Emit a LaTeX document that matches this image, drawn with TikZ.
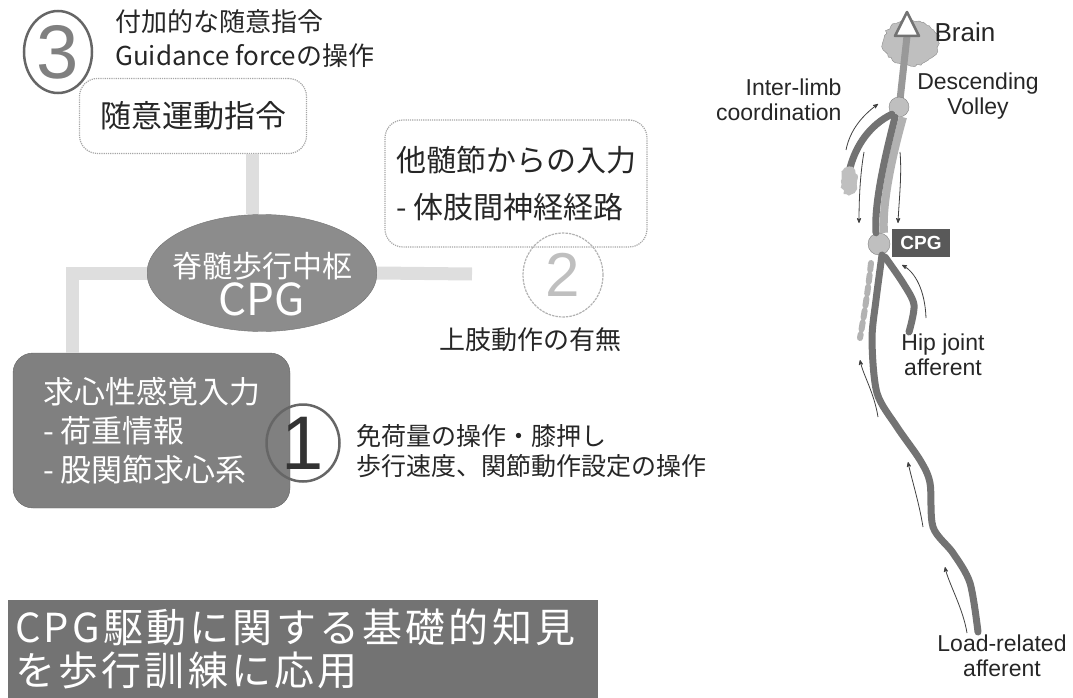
\documentclass[tikz,border=0pt]{standalone}
\usepackage{fontspec}
\setmainfont{Noto Sans CJK JP}
\newfontfamily\labelsans{Liberation Sans}
\usetikzlibrary{arrows,shapes.geometric,decorations.pathmorphing}

\tikzset{
	dotbox/.style={draw=black!35, densely dotted, line width=1.2pt, rounded corners=18pt, align=left, text=black!85},
	darkbox/.style={fill=black!50, draw=black!60, rounded corners=20pt, text=white, align=left},
	band/.style={line width=13pt, draw=black!13},
	nerve/.style={line width=7pt, draw=black!55, line cap=round},
	flow/.style={->, >=stealth', line width=0.8pt, draw=black!75},
	numcirc/.style={ellipse, draw=black!60, line width=2.5pt, inner sep=0pt, font=\labelsans\fontsize{76}{76}\selectfont},
	blob/.style={decorate, decoration={random steps, segment length=3pt, amplitude=1.5pt}},
	spinelabel/.style={text=black!85, font=\labelsans\fontsize{23}{25}\selectfont},
}

\begin{document}
\begin{tikzpicture}[x=1pt, y=-1pt]
	\useasboundingbox (0,0) rectangle (1073,698);

	\newcommand\afferentarrow[4]{ %% arguments: start x, start y, end x, end y
		\draw[flow] (#1,#2) .. controls (#1-4,#2-25) and (#3+3,#4+15) .. (#3,#4);
	}

	%% left: inputs to the CPG
	\node[numcirc, minimum width=68pt, minimum height=82pt, text=black!50] (three) at (58,52) {3};
	\node[anchor=west, align=left, inner sep=1pt, text=black!85, font=\fontsize{26}{34}\selectfont] (guidance) at (114,39) {付加的な随意指令\\Guidance forceの操作};
	\node[dotbox, minimum width=227pt, minimum height=75pt, font=\fontsize{31}{31}\selectfont] (voluntary) at (193,116) {随意運動指令};

	\node[ellipse, fill=black!45, draw=black!55, minimum width=230pt, minimum height=117pt] (cpg) at (262,273) {};
	\node[text=white, align=center, font=\fontsize{30}{38}\selectfont] (cpgtext) at (262,284) {脊髄歩行中枢\\{\fontsize{44}{44}\selectfont CPG}};

	\node[dotbox, minimum width=262pt, minimum height=127pt, font=\fontsize{30}{47}\selectfont] (segments) at (516,183.5) {他髄節からの入力\\- 体肢間神経経路};
	\node[numcirc, minimum width=80pt, minimum height=84pt, draw=black!30, densely dotted, line width=1.2pt, text=black!25, font=\labelsans\fontsize{62}{62}\selectfont] (two) at (563,275) {2};
	\node[text=black!85, font=\fontsize{26}{26}\selectfont] (armswing) at (530,340) {上肢動作の有無};

	\node[darkbox, minimum width=277pt, minimum height=155pt, font=\fontsize{31}{39}\selectfont] (sensory) at (151.5,430.5) {求心性感覚入力\\- 荷重情報\\- 股関節求心系};
	\node[numcirc, minimum width=73pt, minimum height=77pt, text=black!80] (one) at (303,443) {1};
	\node[anchor=west, align=left, text=black!85, font=\fontsize{25}{30}\selectfont] (loadops) at (353,451) {免荷量の操作・膝押し\\歩行速度、関節動作設定の操作};

	\coordinate (segend) at (472,274);
	\draw[band] ([xshift=59pt]voluntary.south) -- ([xshift=-10pt]cpg.north);
	\draw[band] (cpg.west) -| ([xshift=-79.5pt]sensory.north);
	\draw[band] (cpg.east) -- (segend);

	\node[anchor=north west, fill=black!55, text width=576pt, minimum height=98pt, inner sep=7pt, align=left, text=white,
		font=\fontsize{40}{43}\selectfont\addfontfeature{LetterSpace=8}] (banner) at (8,600) {CPG駆動に関する基礎的知見\\を歩行訓練に応用};

	%% right: spinal cord sketch
	\draw[blob, fill=black!25, draw=black!45] (911,43) ellipse [x radius=28pt, y radius=23pt];
	\draw[line width=7pt, draw=black!40] (907,36) -- (900,100);
	\draw[line width=2.5pt, draw=black!55, fill=white, line join=round] (907,12) -- (919,36) -- (895,36) -- cycle;

	\node[circle, fill=black!25, draw=black!50, minimum size=20pt, inner sep=0pt] (volley) at (899,107) {};
	\node[circle, fill=black!25, draw=black!50, minimum size=22pt, inner sep=0pt] (cpgnode) at (879,244) {};

	\draw[line width=8pt, draw=black!30] ([xshift=4pt]volley.south) .. controls (891,160) and (882,205) .. ([xshift=5pt]cpgnode.north);
	\draw[nerve] ([xshift=-4pt]volley.south) .. controls (884,160) and (874,205) .. ([xshift=-3pt]cpgnode.north);
	\draw[nerve] (volley.south west) .. controls (870,125) and (856,145) .. (850,168);
	\fill[blob, black!25] (849,181) ellipse [x radius=8pt, y radius=14pt];

	\draw[nerve] plot[smooth] coordinates {(882,255) (876,300) (872,340) (877,393) (897,427) (920,460) (930,483) (933,527) (953,553) (970,583) (978,632)};
	\draw[nerve] plot[smooth] coordinates {(885,257) (903,283) (914,305) (909,332)};
	\draw[line width=6pt, draw=black!30, dash pattern=on 7pt off 5pt, line cap=round] (871,263) .. controls (868,290) and (865,310) .. (860,338);

	\draw[flow] (846,150) .. controls (850,130) and (862,116) .. (878,104);
	\draw[flow] (864,152) .. controls (860,175) and (859,200) .. (859,223);
	\draw[flow] (900,152) .. controls (902,175) and (899,200) .. (898,223);
	\draw[flow] (926,318) .. controls (925,290) and (915,272) .. (902,265);
	\afferentarrow{878}{417}{860}{360}
	\afferentarrow{923}{527}{908}{462}
	\afferentarrow{967}{633}{945}{567}

	\node[fill=black!65, text=white, font=\labelsans\bfseries\fontsize{19}{19}\selectfont, minimum width=58pt, minimum height=28pt, inner sep=1pt] (cpgtag) at (921,243) {CPG};
	\node[anchor=west, text=black!85, font=\labelsans\fontsize{26}{26}\selectfont] (brain) at (931,32) {Brain};
	\node[spinelabel, align=center] (descending) at (978,96) {Descending\\Volley};
	\node[spinelabel, align=right, anchor=east] (interlimb) at (845,100) {Inter-limb\\coordination};
	\node[spinelabel, align=center] (hip) at (943,355) {Hip joint\\afferent};
	\node[spinelabel, align=center] (load) at (1002,656) {Load-related\\afferent};
\end{tikzpicture}
\end{document}
